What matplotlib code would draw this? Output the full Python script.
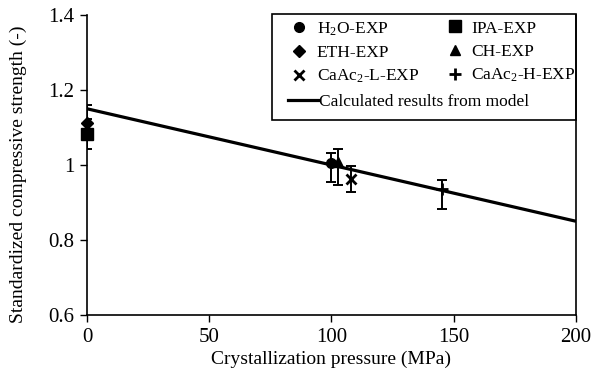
import matplotlib
matplotlib.use("Agg")
import matplotlib.pyplot as plt
from matplotlib.lines import Line2D
from matplotlib.patches import Rectangle

plt.rcParams['font.family'] = ['Liberation Serif', 'DejaVu Serif']
plt.rcParams['mathtext.fontset'] = 'custom'
plt.rcParams['mathtext.rm'] = 'Liberation Serif'
plt.rcParams['mathtext.it'] = 'Liberation Serif:italic'

# Data
labels = [r'H$_{2}$O-EXP', 'IPA-EXP', 'ETH-EXP', 'CH-EXP',
          r'CaAc$_{2}$-L-EXP', r'CaAc$_{2}$-H-EXP']
markers = ['o', 's', 'D', '^', 'x', '+']
msizes = [7, 8, 6, 7, 7, 9]
pressure = [100, 0, 0, 102.8, 107.8, 145.1]
strength = [1.005, 1.082, 1.112, 1.008, 0.964, 0.935]
err_low = [0.05, 0.04, 0.04, 0.06, 0.035, 0.053]
err_high = [0.028, 0.04, 0.048, 0.035, 0.033, 0.025]

model_x = [0, 200]
model_y = [1.15, 0.85]

xticks = [0, 50, 100, 150, 200]
yticks = [0.6, 0.8, 1.0, 1.2, 1.4]
ytick_labels = ['0.6', '0.8', '1', '1.2', '1.4']

fig = plt.figure(figsize=(6.02, 3.8), dpi=100)
ax = fig.add_axes([0.1445, 0.171, 0.8123, 0.7895])

ax.plot(model_x, model_y, color='black', lw=2.3, solid_capstyle='butt', zorder=2)

handles = []
for lab, m, ms, x, y, lo, hi in zip(labels, markers, msizes, pressure, strength, err_low, err_high):
    ax.errorbar([x], [y], yerr=[[lo], [hi]], fmt='none', ecolor='black',
                elinewidth=1.4, capsize=3.5, capthick=1.4, zorder=3)
    mew = 2.0 if m in ('x', '+') else 1
    ax.plot([x], [y], linestyle='none', marker=m, ms=ms, color='black',
            mec='black', mew=mew, zorder=4, clip_on=False)
    handles.append(Line2D([], [], linestyle='none', marker=m, ms=ms,
                          color='black', mew=mew, label=lab))

ax.set_xlim(0, 200)
ax.set_ylim(0.6, 1.4)
ax.set_xticks(xticks)
ax.set_yticks(yticks)
ax.set_yticklabels(ytick_labels)
ax.tick_params(axis='both', direction='out', length=5, width=1, labelsize=15,
               colors='black', pad=4)
ax.spines['top'].set_visible(False)
for s in ['left', 'bottom', 'right']:
    ax.spines[s].set_linewidth(1.2)

ax.set_xlabel('Crystallization pressure (MPa)', fontsize=14, labelpad=3)
ax.set_ylabel('Standardized compressive strength (-)', fontsize=14)
ax.yaxis.set_label_coords(-0.123, 0.47)

# Legend frame
ax.add_patch(Rectangle((0.378, 0.65), 0.622, 0.352, transform=ax.transAxes,
                       fill=False, edgecolor='black', lw=1.2, clip_on=False, zorder=5))

leg_kw = dict(loc='upper left', frameon=False, fontsize=12.5, borderaxespad=0,
              borderpad=0, labelspacing=0.4)
col1 = ax.legend(handles=[handles[0], handles[2], handles[4]],
                 bbox_to_anchor=(0.415, 0.982), handlelength=1.0,
                 handletextpad=0.55, **leg_kw)
ax.add_artist(col1)
col2 = ax.legend(handles=[handles[1], handles[3], handles[5]],
                 bbox_to_anchor=(0.734, 0.982), handlelength=1.0,
                 handletextpad=0.45, **leg_kw)
ax.add_artist(col2)
line_handle = Line2D([], [], color='black', lw=2.3, label='Calculated results from model')
ax.legend(handles=[line_handle], bbox_to_anchor=(0.411, 0.738),
          handlelength=1.78, handletextpad=0.0, **leg_kw)

fig.savefig('out.png', dpi=100)
